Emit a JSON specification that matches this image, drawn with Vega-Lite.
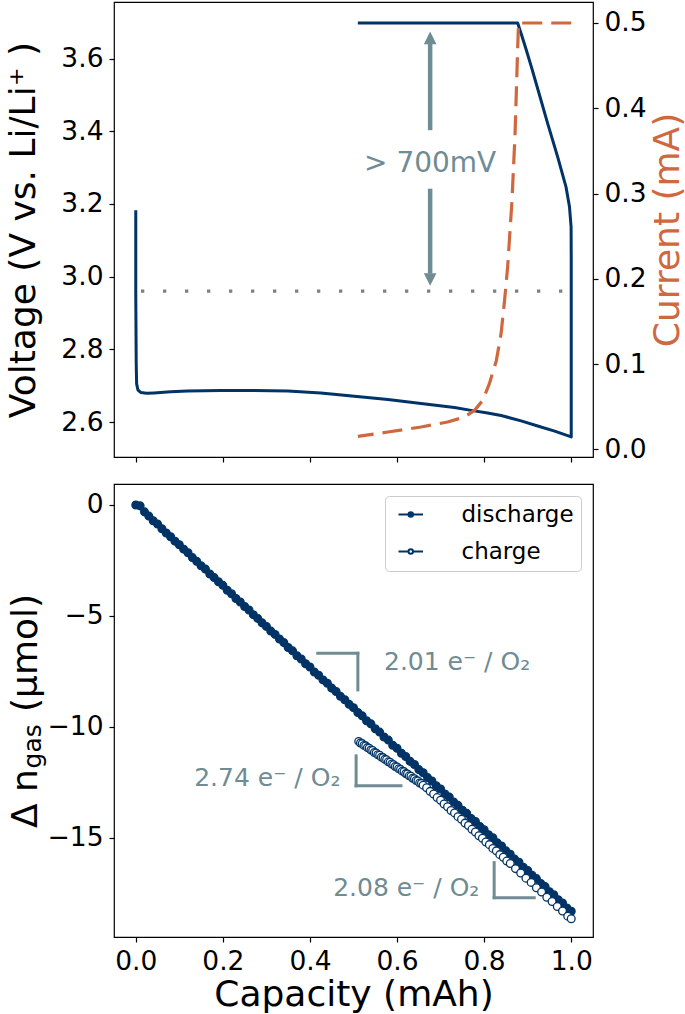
{
  "$schema": "https://vega.github.io/schema/vega-lite/v6.json",
  "background": "white",
  "padding": {"left": 4, "top": 1, "right": 2, "bottom": 0},
  "bounds": "flush",
  "spacing": 27,
  "resolve": {"legend": {"fill": "independent", "shape": "independent"}},
  "config": {
    "font": "DejaVu Sans",
    "view": {"stroke": "#000000", "strokeWidth": 1.2},
    "axis": {
      "grid": false, "domain": false,
      "labelFont": "DejaVu Sans", "titleFont": "DejaVu Sans",
      "labelFontSize": 26.5, "titleFontSize": 36, "titleFontWeight": "normal",
      "labelColor": "#000000", "titleColor": "#000000", "tickColor": "#000000",
      "tickSize": 5, "tickWidth": 1.2, "labelPadding": 6,
      "labelFlush": false, "labelOverlap": false
    },
    "legend": {
      "labelFont": "DejaVu Sans", "labelFontSize": 23, "labelColor": "#000000",
      "padding": 7, "rowPadding": 13, "labelOffset": 46.5, "symbolOffset": 0,
      "strokeColor": "#cccccc", "fillColor": "#ffffff", "cornerRadius": 4,
      "symbolStrokeWidth": 2, "symbolSize": 100, "offset": 12
    }
  },
  "datasets": {
    "volt": [
      {"i": 0, "cap": 0.000, "v": 3.183},
      {"i": 1, "cap": 0.000, "v": 2.95},
      {"i": 2, "cap": 0.001, "v": 2.76},
      {"i": 3, "cap": 0.002, "v": 2.705},
      {"i": 4, "cap": 0.005, "v": 2.688},
      {"i": 5, "cap": 0.012, "v": 2.681},
      {"i": 6, "cap": 0.025, "v": 2.679},
      {"i": 7, "cap": 0.042, "v": 2.680},
      {"i": 8, "cap": 0.080, "v": 2.683},
      {"i": 9, "cap": 0.119, "v": 2.685},
      {"i": 10, "cap": 0.195, "v": 2.687},
      {"i": 11, "cap": 0.272, "v": 2.687},
      {"i": 12, "cap": 0.349, "v": 2.685},
      {"i": 13, "cap": 0.425, "v": 2.680},
      {"i": 14, "cap": 0.502, "v": 2.671},
      {"i": 15, "cap": 0.579, "v": 2.662},
      {"i": 16, "cap": 0.655, "v": 2.651},
      {"i": 17, "cap": 0.732, "v": 2.640},
      {"i": 18, "cap": 0.770, "v": 2.632},
      {"i": 19, "cap": 0.808, "v": 2.625},
      {"i": 20, "cap": 0.839, "v": 2.618},
      {"i": 21, "cap": 0.885, "v": 2.603},
      {"i": 22, "cap": 0.923, "v": 2.589},
      {"i": 23, "cap": 0.962, "v": 2.575},
      {"i": 24, "cap": 1.000, "v": 2.559},
      {"i": 25, "cap": 1.000, "v": 2.80},
      {"i": 26, "cap": 1.000, "v": 3.05},
      {"i": 27, "cap": 0.9997, "v": 3.137},
      {"i": 28, "cap": 0.996, "v": 3.192},
      {"i": 29, "cap": 0.988, "v": 3.247},
      {"i": 30, "cap": 0.969, "v": 3.329},
      {"i": 31, "cap": 0.946, "v": 3.421},
      {"i": 32, "cap": 0.923, "v": 3.517},
      {"i": 33, "cap": 0.909, "v": 3.575},
      {"i": 34, "cap": 0.897, "v": 3.623},
      {"i": 35, "cap": 0.886, "v": 3.665},
      {"i": 36, "cap": 0.877, "v": 3.698},
      {"i": 37, "cap": 0.510, "v": 3.698}
    ],
    "curr": [
      {"i": 0, "cap": 1.000, "cur": 0.500},
      {"i": 1, "cap": 0.879, "cur": 0.500},
      {"i": 2, "cap": 0.877, "cur": 0.470},
      {"i": 3, "cap": 0.871, "cur": 0.370},
      {"i": 4, "cap": 0.864, "cur": 0.292},
      {"i": 5, "cap": 0.854, "cur": 0.214},
      {"i": 6, "cap": 0.847, "cur": 0.175},
      {"i": 7, "cap": 0.839, "cur": 0.136},
      {"i": 8, "cap": 0.828, "cur": 0.104},
      {"i": 9, "cap": 0.812, "cur": 0.077},
      {"i": 10, "cap": 0.797, "cur": 0.0575},
      {"i": 11, "cap": 0.778, "cur": 0.0457},
      {"i": 12, "cap": 0.755, "cur": 0.0379},
      {"i": 13, "cap": 0.716, "cur": 0.0320},
      {"i": 14, "cap": 0.655, "cur": 0.0262},
      {"i": 15, "cap": 0.579, "cur": 0.0203},
      {"i": 16, "cap": 0.510, "cur": 0.0152}
    ],
    "topline": [{"cap": 0.012, "cap2": 0.983, "v": 2.96}],
    "shaft": [
      {"cap": 0.676, "v": 3.641, "v2": 3.403},
      {"cap": 0.676, "v": 3.242, "v2": 3.008}
    ],
    "heads": [
      {"cap": 0.676, "v": 3.657, "dir": "up"},
      {"cap": 0.676, "v": 2.992, "dir": "down"}
    ],
    "toptext": [{"cap": 0.676, "v": 3.288, "label": "> 700mV"}],
    "brackets": [
      {"cap": 0.418, "cap2": 0.510, "n": -6.68, "n2": -6.68},
      {"cap": 0.510, "cap2": 0.510, "n": -6.68, "n2": -8.33},
      {"cap": 0.506, "cap2": 0.506, "n": -11.30, "n2": -12.65},
      {"cap": 0.506, "cap2": 0.609, "n": -12.65, "n2": -12.65},
      {"cap": 0.823, "cap2": 0.823, "n": -16.11, "n2": -17.69},
      {"cap": 0.823, "cap2": 0.915, "n": -17.69, "n2": -17.69}
    ],
    "slopeL": [{"cap": 0.570, "n": -7.43, "label": "2.01 e⁻ / O₂"}],
    "slopeR": [
      {"cap": 0.470, "n": -12.68, "label": "2.74 e⁻ / O₂"},
      {"cap": 0.789, "n": -17.63, "label": "2.08 e⁻ / O₂"}
    ],
    "sub": [{"cap": -0.2185, "n": -10.87, "label": "gas"}],
    "gas": [
      {"cap": 0.00, "n": 0.00, "series": "discharge"},
      {"cap": 0.01, "n": -0.04, "series": "discharge"},
      {"cap": 0.02, "n": -0.31, "series": "discharge"},
      {"cap": 0.03, "n": -0.50, "series": "discharge"},
      {"cap": 0.04, "n": -0.71, "series": "discharge"},
      {"cap": 0.05, "n": -0.86, "series": "discharge"},
      {"cap": 0.06, "n": -1.07, "series": "discharge"},
      {"cap": 0.07, "n": -1.26, "series": "discharge"},
      {"cap": 0.08, "n": -1.43, "series": "discharge"},
      {"cap": 0.09, "n": -1.63, "series": "discharge"},
      {"cap": 0.10, "n": -1.79, "series": "discharge"},
      {"cap": 0.11, "n": -1.99, "series": "discharge"},
      {"cap": 0.12, "n": -2.15, "series": "discharge"},
      {"cap": 0.13, "n": -2.37, "series": "discharge"},
      {"cap": 0.14, "n": -2.54, "series": "discharge"},
      {"cap": 0.15, "n": -2.74, "series": "discharge"},
      {"cap": 0.16, "n": -2.89, "series": "discharge"},
      {"cap": 0.17, "n": -3.11, "series": "discharge"},
      {"cap": 0.18, "n": -3.27, "series": "discharge"},
      {"cap": 0.19, "n": -3.46, "series": "discharge"},
      {"cap": 0.20, "n": -3.62, "series": "discharge"},
      {"cap": 0.21, "n": -3.84, "series": "discharge"},
      {"cap": 0.22, "n": -4.00, "series": "discharge"},
      {"cap": 0.23, "n": -4.21, "series": "discharge"},
      {"cap": 0.24, "n": -4.37, "series": "discharge"},
      {"cap": 0.25, "n": -4.57, "series": "discharge"},
      {"cap": 0.26, "n": -4.73, "series": "discharge"},
      {"cap": 0.27, "n": -4.94, "series": "discharge"},
      {"cap": 0.28, "n": -5.11, "series": "discharge"},
      {"cap": 0.29, "n": -5.31, "series": "discharge"},
      {"cap": 0.30, "n": -5.47, "series": "discharge"},
      {"cap": 0.31, "n": -5.68, "series": "discharge"},
      {"cap": 0.32, "n": -5.83, "series": "discharge"},
      {"cap": 0.33, "n": -6.04, "series": "discharge"},
      {"cap": 0.34, "n": -6.20, "series": "discharge"},
      {"cap": 0.35, "n": -6.42, "series": "discharge"},
      {"cap": 0.36, "n": -6.57, "series": "discharge"},
      {"cap": 0.37, "n": -6.79, "series": "discharge"},
      {"cap": 0.38, "n": -6.94, "series": "discharge"},
      {"cap": 0.39, "n": -7.15, "series": "discharge"},
      {"cap": 0.40, "n": -7.30, "series": "discharge"},
      {"cap": 0.41, "n": -7.52, "series": "discharge"},
      {"cap": 0.42, "n": -7.67, "series": "discharge"},
      {"cap": 0.43, "n": -7.88, "series": "discharge"},
      {"cap": 0.44, "n": -8.03, "series": "discharge"},
      {"cap": 0.45, "n": -8.25, "series": "discharge"},
      {"cap": 0.46, "n": -8.40, "series": "discharge"},
      {"cap": 0.47, "n": -8.62, "series": "discharge"},
      {"cap": 0.48, "n": -8.77, "series": "discharge"},
      {"cap": 0.49, "n": -8.98, "series": "discharge"},
      {"cap": 0.50, "n": -9.13, "series": "discharge"},
      {"cap": 0.51, "n": -9.35, "series": "discharge"},
      {"cap": 0.52, "n": -9.50, "series": "discharge"},
      {"cap": 0.53, "n": -9.72, "series": "discharge"},
      {"cap": 0.54, "n": -9.86, "series": "discharge"},
      {"cap": 0.55, "n": -10.08, "series": "discharge"},
      {"cap": 0.56, "n": -10.23, "series": "discharge"},
      {"cap": 0.57, "n": -10.45, "series": "discharge"},
      {"cap": 0.58, "n": -10.59, "series": "discharge"},
      {"cap": 0.59, "n": -10.82, "series": "discharge"},
      {"cap": 0.60, "n": -10.96, "series": "discharge"},
      {"cap": 0.61, "n": -11.18, "series": "discharge"},
      {"cap": 0.62, "n": -11.33, "series": "discharge"},
      {"cap": 0.63, "n": -11.55, "series": "discharge"},
      {"cap": 0.64, "n": -11.69, "series": "discharge"},
      {"cap": 0.65, "n": -11.92, "series": "discharge"},
      {"cap": 0.66, "n": -12.06, "series": "discharge"},
      {"cap": 0.67, "n": -12.28, "series": "discharge"},
      {"cap": 0.68, "n": -12.43, "series": "discharge"},
      {"cap": 0.69, "n": -12.65, "series": "discharge"},
      {"cap": 0.70, "n": -12.79, "series": "discharge"},
      {"cap": 0.71, "n": -13.02, "series": "discharge"},
      {"cap": 0.72, "n": -13.16, "series": "discharge"},
      {"cap": 0.73, "n": -13.38, "series": "discharge"},
      {"cap": 0.74, "n": -13.53, "series": "discharge"},
      {"cap": 0.75, "n": -13.75, "series": "discharge"},
      {"cap": 0.76, "n": -13.89, "series": "discharge"},
      {"cap": 0.77, "n": -14.12, "series": "discharge"},
      {"cap": 0.78, "n": -14.26, "series": "discharge"},
      {"cap": 0.79, "n": -14.48, "series": "discharge"},
      {"cap": 0.80, "n": -14.63, "series": "discharge"},
      {"cap": 0.81, "n": -14.85, "series": "discharge"},
      {"cap": 0.82, "n": -14.99, "series": "discharge"},
      {"cap": 0.83, "n": -15.22, "series": "discharge"},
      {"cap": 0.84, "n": -15.36, "series": "discharge"},
      {"cap": 0.85, "n": -15.58, "series": "discharge"},
      {"cap": 0.86, "n": -15.73, "series": "discharge"},
      {"cap": 0.87, "n": -15.95, "series": "discharge"},
      {"cap": 0.88, "n": -16.09, "series": "discharge"},
      {"cap": 0.89, "n": -16.32, "series": "discharge"},
      {"cap": 0.90, "n": -16.46, "series": "discharge"},
      {"cap": 0.91, "n": -16.68, "series": "discharge"},
      {"cap": 0.92, "n": -16.83, "series": "discharge"},
      {"cap": 0.93, "n": -17.05, "series": "discharge"},
      {"cap": 0.94, "n": -17.19, "series": "discharge"},
      {"cap": 0.95, "n": -17.42, "series": "discharge"},
      {"cap": 0.96, "n": -17.56, "series": "discharge"},
      {"cap": 0.97, "n": -17.78, "series": "discharge"},
      {"cap": 0.98, "n": -17.93, "series": "discharge"},
      {"cap": 0.99, "n": -18.15, "series": "discharge"},
      {"cap": 1.00, "n": -18.30, "series": "discharge"},
      {"cap": 0.512, "n": -10.65, "series": "charge"},
      {"cap": 0.516, "n": -10.72, "series": "charge"},
      {"cap": 0.520, "n": -10.75, "series": "charge"},
      {"cap": 0.524, "n": -10.83, "series": "charge"},
      {"cap": 0.528, "n": -10.85, "series": "charge"},
      {"cap": 0.532, "n": -10.93, "series": "charge"},
      {"cap": 0.536, "n": -10.96, "series": "charge"},
      {"cap": 0.540, "n": -11.04, "series": "charge"},
      {"cap": 0.544, "n": -11.06, "series": "charge"},
      {"cap": 0.548, "n": -11.15, "series": "charge"},
      {"cap": 0.552, "n": -11.17, "series": "charge"},
      {"cap": 0.556, "n": -11.25, "series": "charge"},
      {"cap": 0.560, "n": -11.27, "series": "charge"},
      {"cap": 0.564, "n": -11.36, "series": "charge"},
      {"cap": 0.568, "n": -11.38, "series": "charge"},
      {"cap": 0.572, "n": -11.46, "series": "charge"},
      {"cap": 0.576, "n": -11.48, "series": "charge"},
      {"cap": 0.580, "n": -11.57, "series": "charge"},
      {"cap": 0.584, "n": -11.59, "series": "charge"},
      {"cap": 0.588, "n": -11.67, "series": "charge"},
      {"cap": 0.592, "n": -11.70, "series": "charge"},
      {"cap": 0.596, "n": -11.78, "series": "charge"},
      {"cap": 0.600, "n": -11.80, "series": "charge"},
      {"cap": 0.604, "n": -11.88, "series": "charge"},
      {"cap": 0.608, "n": -11.91, "series": "charge"},
      {"cap": 0.612, "n": -11.99, "series": "charge"},
      {"cap": 0.616, "n": -12.01, "series": "charge"},
      {"cap": 0.620, "n": -12.10, "series": "charge"},
      {"cap": 0.624, "n": -12.12, "series": "charge"},
      {"cap": 0.628, "n": -12.20, "series": "charge"},
      {"cap": 0.632, "n": -12.22, "series": "charge"},
      {"cap": 0.636, "n": -12.31, "series": "charge"},
      {"cap": 0.640, "n": -12.33, "series": "charge"},
      {"cap": 0.644, "n": -12.41, "series": "charge"},
      {"cap": 0.648, "n": -12.43, "series": "charge"},
      {"cap": 0.652, "n": -12.52, "series": "charge"},
      {"cap": 0.656, "n": -12.54, "series": "charge"},
      {"cap": 0.660, "n": -12.62, "series": "charge"},
      {"cap": 0.668, "n": -12.74, "series": "charge"},
      {"cap": 0.676, "n": -12.90, "series": "charge"},
      {"cap": 0.684, "n": -13.02, "series": "charge"},
      {"cap": 0.692, "n": -13.18, "series": "charge"},
      {"cap": 0.700, "n": -13.30, "series": "charge"},
      {"cap": 0.708, "n": -13.47, "series": "charge"},
      {"cap": 0.716, "n": -13.59, "series": "charge"},
      {"cap": 0.724, "n": -13.76, "series": "charge"},
      {"cap": 0.732, "n": -13.87, "series": "charge"},
      {"cap": 0.740, "n": -14.04, "series": "charge"},
      {"cap": 0.748, "n": -14.16, "series": "charge"},
      {"cap": 0.756, "n": -14.33, "series": "charge"},
      {"cap": 0.764, "n": -14.44, "series": "charge"},
      {"cap": 0.772, "n": -14.61, "series": "charge"},
      {"cap": 0.780, "n": -14.73, "series": "charge"},
      {"cap": 0.788, "n": -14.90, "series": "charge"},
      {"cap": 0.796, "n": -15.01, "series": "charge"},
      {"cap": 0.804, "n": -15.18, "series": "charge"},
      {"cap": 0.812, "n": -15.30, "series": "charge"},
      {"cap": 0.820, "n": -15.47, "series": "charge"},
      {"cap": 0.828, "n": -15.58, "series": "charge"},
      {"cap": 0.836, "n": -15.75, "series": "charge"},
      {"cap": 0.844, "n": -15.87, "series": "charge"},
      {"cap": 0.852, "n": -16.04, "series": "charge"},
      {"cap": 0.860, "n": -16.15, "series": "charge"},
      {"cap": 0.872, "n": -16.38, "series": "charge"},
      {"cap": 0.884, "n": -16.58, "series": "charge"},
      {"cap": 0.896, "n": -16.81, "series": "charge"},
      {"cap": 0.908, "n": -17.00, "series": "charge"},
      {"cap": 0.920, "n": -17.24, "series": "charge"},
      {"cap": 0.932, "n": -17.43, "series": "charge"},
      {"cap": 0.944, "n": -17.67, "series": "charge"},
      {"cap": 0.956, "n": -17.86, "series": "charge"},
      {"cap": 0.968, "n": -18.09, "series": "charge"},
      {"cap": 0.980, "n": -18.29, "series": "charge"},
      {"cap": 0.992, "n": -18.52, "series": "charge"},
      {"cap": 1.000, "n": -18.64, "series": "charge"}
    ]
  },
  "vconcat": [
    {
      "width": 479,
      "height": 455,
      "layer": [
        {
          "layer": [
            {
              "data": {"name": "volt"},
              "mark": {"type": "line", "color": "#003366", "strokeWidth": 3, "strokeJoin": "round"},
              "encoding": {
                "x": {"field": "cap", "type": "quantitative",
                      "scale": {"domain": [-0.05, 1.05], "nice": false, "zero": false},
                      "axis": {"labels": false, "title": null, "values": [0, 0.2, 0.4, 0.6, 0.8, 1.0]}},
                "y": {"field": "v", "type": "quantitative",
                      "scale": {"domain": [2.5037, 3.7557], "nice": false, "zero": false},
                      "axis": {"title": "Voltage (V vs. Li/Li⁺ )", "values": [2.6, 2.8, 3.0, 3.2, 3.4, 3.6], "format": ".1f",
                               "titleAngle": 270, "titleBaseline": "alphabetic", "titleX": -80}},
                "order": {"field": "i", "type": "quantitative"}
              }
            },
            {
              "data": {"name": "topline"},
              "mark": {"type": "rule", "color": "#808080", "strokeWidth": 3.3, "strokeDash": [3.3, 18.7]},
              "encoding": {
                "x": {"field": "cap", "type": "quantitative"},
                "x2": {"field": "cap2"},
                "y": {"field": "v", "type": "quantitative"}
              }
            },
            {
              "data": {"name": "shaft"},
              "mark": {"type": "rule", "color": "#6f8b93", "strokeWidth": 4.5},
              "encoding": {
                "x": {"field": "cap", "type": "quantitative"},
                "y": {"field": "v", "type": "quantitative"},
                "y2": {"field": "v2"}
              }
            },
            {
              "data": {"name": "heads"},
              "mark": {"type": "point", "filled": true, "color": "#6f8b93", "size": 160, "opacity": 1},
              "encoding": {
                "x": {"field": "cap", "type": "quantitative"},
                "y": {"field": "v", "type": "quantitative"},
                "shape": {"field": "dir", "type": "nominal",
                          "scale": {"domain": ["up", "down"], "range": ["M0,-1L1,1L-1,1Z", "M0,1L1,-1L-1,-1Z"]},
                          "legend": null}
              }
            },
            {
              "data": {"name": "toptext"},
              "mark": {"type": "text", "color": "#6f8b93", "fontSize": 28, "align": "center", "baseline": "alphabetic", "font": "DejaVu Sans"},
              "encoding": {
                "x": {"field": "cap", "type": "quantitative"},
                "y": {"field": "v", "type": "quantitative"},
                "text": {"field": "label"}
              }
            }
          ]
        },
        {
          "data": {"name": "curr"},
          "mark": {"type": "line", "color": "#d0683f", "strokeWidth": 3.2, "strokeDash": [20, 9]},
          "encoding": {
            "x": {"field": "cap", "type": "quantitative"},
            "y": {"field": "cur", "type": "quantitative",
                  "scale": {"domain": [-0.009, 0.5246], "nice": false, "zero": false},
                  "axis": {"orient": "right", "title": "Current (mA)", "titleColor": "#d0683f",
                           "values": [0, 0.1, 0.2, 0.3, 0.4, 0.5], "format": ".1f",
                           "titleAngle": 270, "titleBaseline": "alphabetic", "titleX": 85}},
            "order": {"field": "i", "type": "quantitative"}
          }
        }
      ],
      "resolve": {"scale": {"y": "independent"}}
    },
    {
      "width": 479,
      "height": 453,
      "layer": [
        {
          "data": {"name": "brackets"},
          "mark": {"type": "rule", "color": "#6f8b93", "strokeWidth": 3, "strokeCap": "square"},
          "encoding": {
            "x": {"field": "cap", "type": "quantitative",
                  "scale": {"domain": [-0.05, 1.05], "nice": false, "zero": false},
                  "axis": {"title": "Capacity (mAh)", "values": [0, 0.2, 0.4, 0.6, 0.8, 1.0], "format": ".1f",
                           "titleBaseline": "alphabetic", "titleY": 68}},
            "x2": {"field": "cap2"},
            "y": {"field": "n", "type": "quantitative",
                  "scale": {"domain": [-19.46, 0.945], "nice": false, "zero": false},
                  "axis": {"title": "Δ n\u00a0\u00a0\u00a0\u00a0\u00a0(μmol)", "values": [0, -5, -10, -15], "format": "d",
                           "titleAngle": 270, "titleBaseline": "alphabetic", "titleX": -78}},
            "y2": {"field": "n2"}
          }
        },
        {
          "data": {"name": "gas"},
          "mark": {"type": "point", "filled": true, "stroke": "#003366", "strokeWidth": 1.3, "size": 60, "opacity": 1},
          "encoding": {
            "x": {"field": "cap", "type": "quantitative"},
            "y": {"field": "n", "type": "quantitative"},
            "fill": {"field": "series", "type": "nominal",
                     "scale": {"domain": ["discharge", "charge"], "range": ["#003366", "#ffffff"]},
                     "legend": {"title": null, "orient": "top-right",
                                "symbolType": "M-1,0H1M1.9,0A0.45,0.45,0,1,1,1,0A0.45,0.45,0,1,1,1.9,0ZM1.9,0H3.9",
                                "symbolStrokeColor": "#003366"}}
          }
        },
        {
          "data": {"name": "slopeL"},
          "mark": {"type": "text", "color": "#6f8b93", "fontSize": 25, "align": "left", "baseline": "alphabetic", "font": "DejaVu Sans"},
          "encoding": {
            "x": {"field": "cap", "type": "quantitative"},
            "y": {"field": "n", "type": "quantitative"},
            "text": {"field": "label"}
          }
        },
        {
          "data": {"name": "slopeR"},
          "mark": {"type": "text", "color": "#6f8b93", "fontSize": 25, "align": "right", "baseline": "alphabetic", "font": "DejaVu Sans"},
          "encoding": {
            "x": {"field": "cap", "type": "quantitative"},
            "y": {"field": "n", "type": "quantitative"},
            "text": {"field": "label"}
          }
        },
        {
          "data": {"name": "sub"},
          "mark": {"type": "text", "color": "#000000", "fontSize": 25, "angle": 270, "align": "center", "baseline": "alphabetic", "font": "DejaVu Sans"},
          "encoding": {
            "x": {"field": "cap", "type": "quantitative"},
            "y": {"field": "n", "type": "quantitative"},
            "text": {"field": "label"}
          }
        }
      ]
    }
  ]
}
